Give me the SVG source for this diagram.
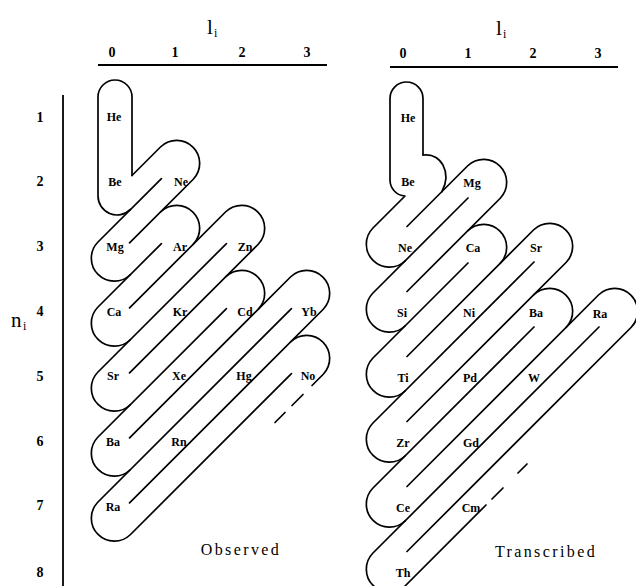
<svg xmlns="http://www.w3.org/2000/svg" width="636" height="586" viewBox="0 0 636 586">
<style>
.o{fill:none;stroke:#000;stroke-width:1.7;stroke-linecap:round;stroke-linejoin:round}
.ax{fill:none;stroke:#000;stroke-width:1.8}
.t{font-family:"Liberation Serif","Times New Roman",serif;fill:#000}
.el{font-size:12px;font-weight:bold;text-anchor:middle}
.num{font-size:14px;font-weight:bold;text-anchor:middle}
.big{font-size:21px}
.sub{font-size:12px}
.cap{font-size:16px;letter-spacing:2.4px;text-anchor:middle}
</style>
<rect width="636" height="586" fill="#fff"/>
<g id="axes">
<path class="ax" d="M98,65 L327,65"/>
<path class="ax" d="M390,67 L618,67"/>
<path class="ax" d="M63,95 L63,586"/>
<text class="t big" x="207" y="34">l</text><text class="t sub" x="214" y="37">i</text>
<text class="t big" x="496" y="35">l</text><text class="t sub" x="503" y="38">i</text>
<text class="t num" x="112" y="57">0</text><text class="t num" x="175" y="57">1</text><text class="t num" x="242" y="57">2</text><text class="t num" x="307" y="57">3</text>
<text class="t num" x="403" y="58">0</text><text class="t num" x="468" y="58">1</text><text class="t num" x="533" y="58">2</text><text class="t num" x="598" y="58">3</text>
<text class="t big" x="11" y="327">n</text><text class="t sub" x="23" y="330">i</text>
<text class="t num" x="40" y="122">1</text><text class="t num" x="40" y="186">2</text><text class="t num" x="40" y="251">3</text><text class="t num" x="40" y="316">4</text><text class="t num" x="40" y="381">5</text><text class="t num" x="40" y="446">6</text><text class="t num" x="40" y="510">7</text><text class="t num" x="40" y="577">8</text>
</g>
<g id="observed-ribbon">
<path class="o" d="M132,175.5 L132,97 A17,17 0 0 0 98,97 L98,196 A19,19 0 0 0 130.43,209.43"/>
<path class="o" d="M132,175.5 L160.74,146.74 A23,23 0 0 1 193.26,179.26 L129.56,242.94"/>
<path class="o" d="M161.44,178.56 L97.74,242.24 A23,23 0 0 0 130.26,274.76"/>
<path class="o" d="M161.44,243.56 L97.74,307.24 A23,23 0 0 0 130.26,339.76"/>
<path class="o" d="M160.74,211.74 A23,23 0 0 1 193.26,244.26"/>
<path class="o" d="M129.56,307.94 L225.74,211.74 A23,23 0 0 1 258.26,244.26 L129.56,372.94"/>
<path class="o" d="M226.44,243.56 L97.74,372.24 A23,23 0 0 0 130.26,404.76"/>
<path class="o" d="M226.44,308.56 L97.74,437.24 A23,23 0 0 0 130.26,469.76"/>
<path class="o" d="M225.74,276.74 A23,23 0 0 1 258.26,309.26"/>
<path class="o" d="M129.56,437.94 L290.74,276.74 A23,23 0 0 1 323.26,309.26 L129.56,502.94"/>
<path class="o" d="M291.44,308.56 L97.74,502.24 A23,23 0 0 0 130.26,534.76 L291.44,373.56"/>
<path class="o" d="M290.74,341.74 A23,23 0 0 1 323.26,374.26 L312,385.5"/>
<path class="o" d="M303,394.5 L292,405.5 M285,412.5 L275,422.5"/>
</g>
<g id="transcribed-ribbon">
<path class="o" d="M423,155 L423,98.5 A16.5,16.5 0 0 0 390,98.5 L390,180 A16,16 0 0 0 405,196 L372.74,228.24 A23,23 0 0 0 405.26,260.76"/>
<path class="o" d="M423,155 C441,153 452,172 442,191.5"/>
<path class="o" d="M407,226.5 L467.74,165.74 A23,23 0 0 1 500.26,198.26 L407,291.5"/>
<path class="o" d="M468,198 L372.74,293.24 A23,23 0 0 0 405.26,325.76"/>
<path class="o" d="M467.74,230.74 A23,23 0 0 1 500.26,263.26"/>
<path class="o" d="M468,263 L372.74,358.24 A23,23 0 0 0 405.26,390.76"/>
<path class="o" d="M407,356.5 L533.74,229.74 A23,23 0 0 1 566.26,262.26 L407,421.5"/>
<path class="o" d="M534,262 L372.74,423.24 A23,23 0 0 0 405.26,455.76"/>
<path class="o" d="M533.74,294.74 A23,23 0 0 1 566.26,327.26"/>
<path class="o" d="M534,327 L372.74,488.24 A23,23 0 0 0 405.26,520.76"/>
<path class="o" d="M407,486.5 L598.74,294.74 A23,23 0 0 1 631.26,327.26 L407,551.5"/>
<path class="o" d="M599,327 L372.74,553.24 A23,23 0 0 0 405.26,585.76 L486,505"/>
<path class="o" d="M492,499 L503,488 M518,473 L527,464"/>
</g>
<g id="observed-labels" class="t el">
<text x="114" y="121">He</text><text x="115" y="186">Be</text><text x="181" y="186">Ne</text>
<text x="115" y="251">Mg</text><text x="180" y="251">Ar</text><text x="245" y="251">Zn</text>
<text x="114" y="316">Ca</text><text x="180" y="316">Kr</text><text x="245" y="316">Cd</text><text x="309" y="316">Yb</text>
<text x="113" y="380">Sr</text><text x="179" y="380">Xe</text><text x="244" y="380">Hg</text><text x="308" y="380">No</text>
<text x="113" y="446">Ba</text><text x="179" y="446">Rn</text>
<text x="113" y="511">Ra</text>
</g>
<g id="transcribed-labels" class="t el">
<text x="408" y="122">He</text><text x="408" y="186">Be</text><text x="472" y="187">Mg</text>
<text x="405" y="252">Ne</text><text x="473" y="252">Ca</text><text x="536" y="252">Sr</text>
<text x="402" y="317">Si</text><text x="469" y="317">Ni</text><text x="536" y="317">Ba</text><text x="600" y="318">Ra</text>
<text x="403" y="382">Ti</text><text x="470" y="382">Pd</text><text x="534" y="382">W</text>
<text x="403" y="447">Zr</text><text x="471" y="447">Gd</text>
<text x="403" y="512">Ce</text><text x="471" y="512">Cm</text>
<text x="403" y="577">Th</text>
</g>
<g id="captions">
<text class="t cap" x="241" y="555">Observed</text>
<text class="t cap" x="546" y="557">Transcribed</text>
</g>
</svg>
